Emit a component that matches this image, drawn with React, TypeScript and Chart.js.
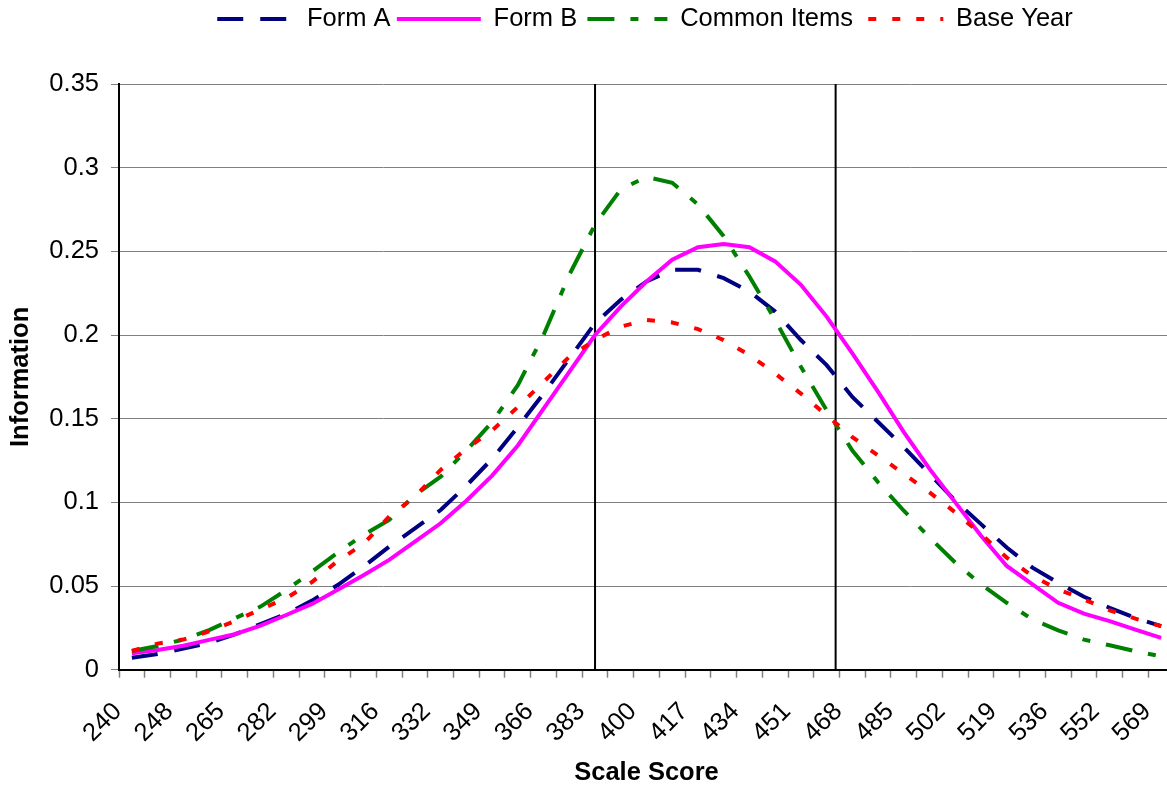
import React, { useEffect, useRef } from 'react';
import { Chart, registerables } from 'chart.js';

Chart.register(...registerables);

// Visible tick labels (every other category)
const tickLabels = ['240', '248', '265', '282', '299', '316', '332', '349', '366', '383', '400', '417', '434', '451', '468', '485', '502', '519', '536', '552', '569'];
// 41 categories; labels shown on even ones
const categories = Array.from({ length: 41 }, (_, i) => (i % 2 === 0 ? tickLabels[i / 2] : ''));

const formA = [0.0072, 0.0094, 0.0126, 0.016, 0.0211, 0.0273, 0.0333, 0.0413, 0.0506, 0.0616, 0.0735, 0.0845, 0.0954, 0.110, 0.126, 0.145, 0.165, 0.186, 0.207, 0.221, 0.232, 0.239, 0.239, 0.234, 0.226, 0.214, 0.197, 0.182, 0.163, 0.148, 0.133, 0.117, 0.101, 0.087, 0.073, 0.061, 0.052, 0.0436, 0.037, 0.031, 0.026];
const formB = [0.0098, 0.0118, 0.0143, 0.0178, 0.0212, 0.0263, 0.0327, 0.0393, 0.0478, 0.0565, 0.0656, 0.0765, 0.0875, 0.101, 0.116, 0.134, 0.156, 0.178, 0.200, 0.217, 0.232, 0.245, 0.2525, 0.2544, 0.2525, 0.244, 0.230, 0.211, 0.189, 0.166, 0.142, 0.120, 0.100, 0.080, 0.062, 0.051, 0.040, 0.0335, 0.029, 0.024, 0.019];
const commonItems = [0.0112, 0.0142, 0.018, 0.0237, 0.0307, 0.0377, 0.0476, 0.0586, 0.070, 0.0805, 0.0895, 0.1044, 0.1153, 0.131, 0.148, 0.170, 0.200, 0.236, 0.266, 0.287, 0.2945, 0.291, 0.278, 0.259, 0.235, 0.209, 0.181, 0.155, 0.131, 0.112, 0.095, 0.079, 0.064, 0.051, 0.040, 0.030, 0.0235, 0.018, 0.0146, 0.011, 0.008];
const baseYear = [0.0112, 0.0156, 0.018, 0.0229, 0.029, 0.0361, 0.0427, 0.0524, 0.065, 0.0751, 0.0915, 0.1034, 0.1194, 0.132, 0.143, 0.157, 0.172, 0.187, 0.197, 0.205, 0.209, 0.2075, 0.2035, 0.197, 0.188, 0.177, 0.165, 0.152, 0.139, 0.128, 0.117, 0.106, 0.094, 0.081, 0.067, 0.056, 0.048, 0.042, 0.0355, 0.0305, 0.026];

// Cut-score reference lines, as positions on the category axis
const cutPositions = [18, 27.35];

const FONT = "'Liberation Sans', Arial, sans-serif";
const KEY_W = 84;
// legend key dash phase (px from the key's left end where the first dash starts)
const keyPhase = [7, 0, 4, 9];

const cutLinePlugin = {
  id: 'cutLines',
  beforeDatasetsDraw(chart: any) {
    const { ctx, chartArea, scales } = chart;
    const x = scales.x;
    ctx.save();
    ctx.strokeStyle = '#000000';
    ctx.lineWidth = 2;
    cutPositions.forEach((p) => {
      const px = x.getPixelForValue(p);
      ctx.beginPath();
      ctx.moveTo(px, chartArea.top);
      ctx.lineTo(px, chartArea.bottom);
      ctx.stroke();
    });
    ctx.restore();
  },
};

const legendPlacePlugin = {
  id: 'legendPlace',
  afterLayout(chart: any) {
    const lg = chart.legend;
    if (!lg) return;
    const h = lg.height;
    lg.top = 0;
    lg.bottom = h;
    lg.left -= 5;
    lg.right -= 5;
  },
};

export default function App() {
  const ref = useRef<HTMLCanvasElement | null>(null);

  useEffect(() => {
    if (!ref.current) return;
    Chart.defaults.font.family = FONT;
    const mk = (label: string, data: number[], color: string, dash: number[], order: number) => ({
      label,
      data,
      borderColor: color,
      backgroundColor: color,
      borderWidth: 4,
      borderDash: dash,
      borderCapStyle: 'butt',
      pointRadius: 0,
      pointStyle: 'line',
      tension: 0,
      fill: false,
      order,
    });
    const chart = new Chart(ref.current, {
      type: 'line',
      data: {
        labels: categories,
        datasets: [
          mk('Form A', formA, '#000080', [26, 17], 4),
          mk('Form B', formB, '#FF00FF', [], 3),
          mk('Common Items', commonItems, '#008000', [27, 16, 8, 16], 2),
          mk('Base Year', baseYear, '#FF0000', [8, 16], 1),
        ] as any,
      },
      options: {
        responsive: false,
        animation: false,
        devicePixelRatio: 1,
        events: [],
        layout: { padding: 0 },
        plugins: {
          tooltip: { enabled: false },
          legend: {
            display: true,
            position: 'top',
            fullSize: false,
            labels: {
              usePointStyle: true,
              pointStyleWidth: KEY_W,
              color: '#000000',
              font: { size: 25.5, family: FONT },
              padding: 6.25,
              sort: (a: any, b: any) => a.datasetIndex - b.datasetIndex,
              generateLabels: (ch: any) => {
                const base = (Chart.defaults as any).plugins.legend.labels.generateLabels(ch);
                return base.map((it: any) => {
                  const ds = ch.data.datasets[it.datasetIndex];
                  const dash: number[] = ds.borderDash || [];
                  const period = dash.reduce((a: number, b: number) => a + b, 0);
                  const off = period ? (((-keyPhase[it.datasetIndex]) % period) + period) % period : 0;
                  return {
                    ...it,
                    pointStyle: 'line',
                    lineWidth: 4,
                    lineDash: dash,
                    lineDashOffset: off,
                    lineCap: 'butt',
                    strokeStyle: ds.borderColor,
                    fillStyle: ds.borderColor,
                  };
                });
              },
            },
          },
        },
        scales: {
          x: {
            offset: true,
            grid: {
              offset: true,
              drawOnChartArea: false,
              drawTicks: true,
              tickLength: 8,
              tickColor: '#808080',
              tickWidth: 1.5,
            },
            border: { color: '#000000', width: 2 },
            ticks: {
              autoSkip: false,
              maxRotation: 45,
              minRotation: 45,
              color: '#000000',
              font: { size: 25.5, family: FONT },
              padding: 19,
              labelOffset: -14,
            },
            title: {
              display: true,
              text: 'Scale Score',
              color: '#000000',
              font: { size: 25.5, weight: 'bold', family: FONT },
              padding: { top: 0, bottom: 0 },
            },
            afterFit: (s: any) => {
              s.height = 118.3;
              s.paddingLeft = 0;
              s.paddingRight = 0;
            },
          },
          y: {
            min: 0,
            max: 0.35,
            ticks: {
              stepSize: 0.05,
              color: '#000000',
              font: { size: 25.5, family: FONT },
              padding: 12,
              callback: (v: any) => String(Math.round(Number(v) * 100) / 100),
            },
            grid: {
              color: '#808080',
              lineWidth: 1,
              tickLength: 8,
              tickColor: '#808080',
            },
            border: { color: '#000000', width: 2 },
            title: {
              display: true,
              text: 'Information',
              color: '#000000',
              font: { size: 25.5, weight: 'bold', family: FONT },
              padding: { top: 6, bottom: 0 },
            },
            afterFit: (s: any) => {
              s.width = 119;
              s.paddingTop = 84;
              s.paddingBottom = 0;
            },
          },
        },
      } as any,
      plugins: [cutLinePlugin, legendPlacePlugin],
    });
    return () => chart.destroy();
  }, []);

  return (
    <div
      style={{
        position: 'fixed',
        left: 0,
        top: 0,
        width: 1167,
        height: 788,
        overflow: 'hidden',
        background: '#ffffff',
      }}
    >
      <canvas ref={ref} width={1174} height={788} style={{ display: 'block', width: 1174, height: 788 }} />
    </div>
  );
}
